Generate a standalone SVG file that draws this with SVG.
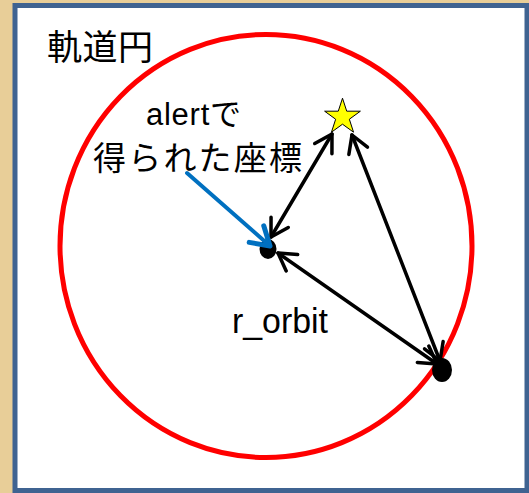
<svg xmlns="http://www.w3.org/2000/svg" width="529" height="493" viewBox="0 0 529 493">
<style>
.cjk{font-family:"Noto Sans CJK JP","Noto Sans CJK SC",sans-serif;fill:#000}
.lat{font-family:"Liberation Sans","Noto Sans CJK JP",sans-serif;fill:#000}
.arr{fill:none;stroke:#000;stroke-width:3.5;stroke-linecap:round}
</style>
<defs>
<marker id="ah" markerUnits="userSpaceOnUse" markerWidth="40" markerHeight="40" refX="0" refY="0" viewBox="-20 -20 40 40" orient="auto-start-reverse" overflow="visible">
<path d="M-17,-10 L0,0 L-17,10" fill="none" stroke="#000" stroke-width="3.5" stroke-linecap="round" stroke-linejoin="round"/>
</marker>
<marker id="ahb" markerUnits="userSpaceOnUse" markerWidth="40" markerHeight="40" refX="0" refY="0" viewBox="-20 -20 40 40" orient="auto" overflow="visible">
<path d="M-18,-11 L0,0 L-18,11" fill="none" stroke="#0070C0" stroke-width="5" stroke-linecap="round" stroke-linejoin="round"/>
</marker>
</defs>
<rect x="0" y="0" width="529" height="493" fill="#E8CE98"/>
<rect x="15" y="5.5" width="512" height="485" fill="#FFFFFF" stroke="#3F6391" stroke-width="5"/>
<g id="orbit">
<ellipse cx="266" cy="246" rx="206" ry="211.5" fill="none" stroke="#FF0000" stroke-width="5"/>
<text class="cjk" x="47" y="60" font-size="35" textLength="106" lengthAdjust="spacing">軌道円</text>
</g>
<g id="label-alert">
<text class="lat" x="146" y="125" font-size="31" textLength="95" lengthAdjust="spacing">alertで</text>
<text class="cjk" x="93" y="170" font-size="33" textLength="209" lengthAdjust="spacing">得られた座標</text>
</g>
<g id="star">
<polygon points="342.5,98.2 346.73,111.18 360.38,111.19 349.35,119.22 353.55,132.21 342.5,124.2 331.45,132.21 335.65,119.22 324.62,111.19 338.27,111.18" fill="#FFFF00" stroke="#000" stroke-width="1"/>
</g>
<g id="center">
<ellipse cx="268" cy="249" rx="8.5" ry="10" fill="#000"/>
</g>
<g id="satellite">
<ellipse cx="442" cy="370" rx="10" ry="12" fill="#000"/>
</g>
<g id="connectors">
<line class="arr" x1="271" y1="237" x2="332" y2="134" marker-start="url(#ah)" marker-end="url(#ah)"/>
<line class="arr" x1="352" y1="135" x2="440" y2="361" marker-start="url(#ah)" marker-end="url(#ah)"/>
<line class="arr" x1="278" y1="253" x2="437" y2="364" marker-start="url(#ah)" marker-end="url(#ah)"/>
<line x1="187" y1="173" x2="270" y2="246" stroke="#0070C0" stroke-width="4" stroke-linecap="round" marker-end="url(#ahb)"/>
</g>
<g id="label-r">
<text x="232" y="333" font-family="Liberation Sans, Arial, sans-serif" font-size="35" textLength="96" lengthAdjust="spacingAndGlyphs">r_orbit</text>
</g>
</svg>
